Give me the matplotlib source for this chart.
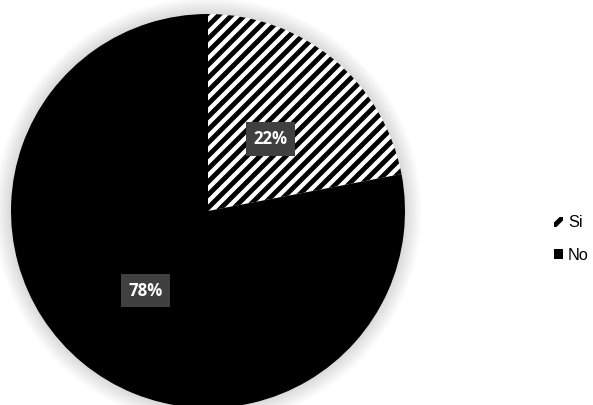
import matplotlib.pyplot as plt
from matplotlib.patches import Circle

labels = ["Si", "No"]
values = [22, 78]

plt.rcParams['font.family'] = ['Liberation Sans', 'DejaVu Sans']
plt.rcParams['hatch.linewidth'] = 4.5
plt.rcParams['hatch.color'] = 'black'

DPI = 78
fig = plt.figure(figsize=(593 / DPI, 405 / DPI), dpi=DPI)
ax = fig.add_axes([11 / 593, -3 / 405, 394 / 593, 394 / 405])

# soft glow around the pie
for k in range(1, 13):
    ax.add_patch(Circle((0, 0), 1 + k * 0.007, facecolor='black', edgecolor='none',
                        alpha=0.01, zorder=0, clip_on=False))

wedges, texts, autotexts = ax.pie(
    values, startangle=90, counterclock=False,
    colors=['white', 'black'], autopct='%1.0f%%', pctdistance=0.5,
    wedgeprops=dict(linewidth=0),
)
wedges[0].set_hatch('//')
wedges[0].set_edgecolor('black')

for t in autotexts:
    t.set_color('white')
    t.set_fontweight('bold')
    t.set_fontsize(15.5)
    t.set_family(['Open Sans', 'DejaVu Sans'])
    t.set_bbox(dict(facecolor='#404040', edgecolor='none', pad=7))
    x, y = t.get_position()
    t.set_position((x, y - 0.02))

ax.set_xlim(-1, 1)
ax.set_ylim(-1, 1)
ax.set_aspect('equal')
ax.axis('off')

fig.legend(wedges, labels, loc='center left', bbox_to_anchor=(546 / 593, 1 - 239 / 405),
           frameon=False, fontsize=15, handlelength=0.55, handleheight=0.55,
           handletextpad=0.3, labelspacing=1.05, borderpad=0)

fig.savefig('out.png', dpi=DPI)
